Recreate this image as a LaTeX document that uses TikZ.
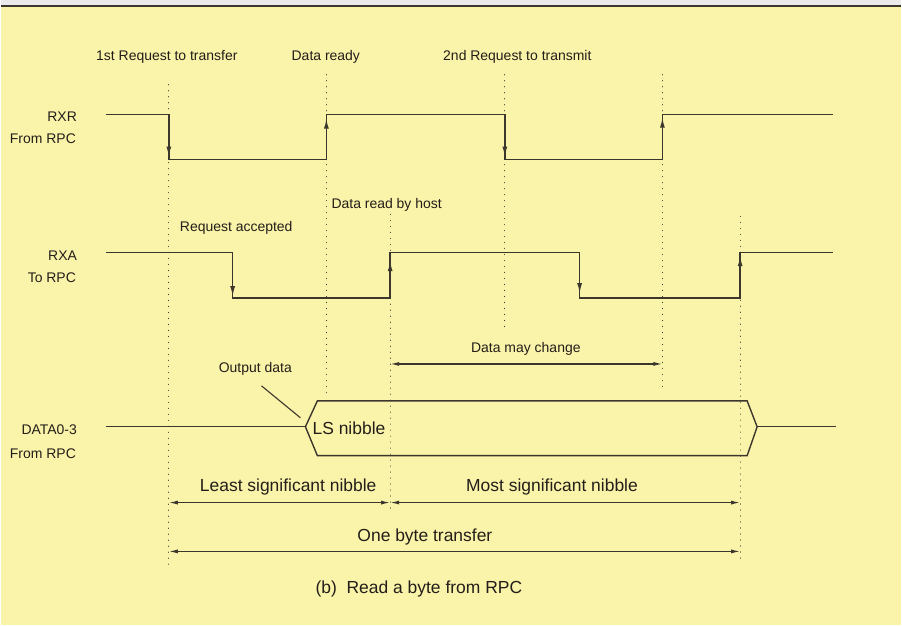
\documentclass[tikz,border=0pt]{standalone}
\usepackage{fontspec}
\setmainfont{Liberation Sans}
\usetikzlibrary{arrows.meta}
\definecolor{bg}{RGB}{250,243,170}
\definecolor{ink}{RGB}{60,55,45}
\definecolor{txt}{RGB}{35,30,25}
\tikzset{
 sig/.style={draw=ink, line width=1.4pt, line join=miter},
 guide/.style={draw=ink, line width=1.2pt, dash pattern=on 0.01pt off 6pt, line cap=round},
 edgearrow/.style={draw=ink, line width=1.4pt, -{Latex[length=10pt,width=5pt]}},
 dimline/.style={draw=ink, line width=1.2pt, {Latex[length=9pt,width=4pt]}-{Latex[length=9pt,width=4pt]}},
 small/.style={font=\fontsize{14}{16}\selectfont, text=txt, inner sep=0pt},
 big/.style={font=\fontsize{17.5}{20}\selectfont, text=txt, inner sep=0pt},
}
\begin{document}
\begin{tikzpicture}[x=1pt,y=-1pt]
% background
\fill[white!92!black] (0,0) rectangle (902,627);
\fill[bg] (0,6) rectangle (902,627);
\draw[line width=2.6pt, draw=ink] (0,6) -- (902,6);
\useasboundingbox (0,0) rectangle (902,627);

% guide lines
\draw[guide] (168,85) -- (168,567);
\draw[guide] (326,75) -- (326,395);
\draw[guide] (390,215) -- (390,512);
\draw[guide] (505,75) -- (505,332);
\draw[guide] (663,75) -- (663,392);
\draw[guide] (741,217) -- (741,565);

% top labels
\node[small, anchor=west] (l1) at (95,57) {1st Request to transfer};
\node[small, anchor=west] (l2) at (291,57) {Data ready};
\node[small, anchor=west] (l3) at (443,57) {2nd Request to transmit};
\node[small, anchor=west] (l4) at (331,205) {Data read by host};
\node[small, anchor=west] (l5) at (179,229) {Request accepted};

% signal names
\node[small, anchor=east] (rxr) at (76,117) {RXR};
\node[small, anchor=east] (rxr2) at (75,139) {From RPC};
\node[small, anchor=east] (rxa) at (76,256) {RXA};
\node[small, anchor=east] (rxa2) at (75,278) {To RPC};
\node[small, anchor=east] (dat) at (76,431) {DATA0-3};
\node[small, anchor=east] (dat2) at (75,455) {From RPC};

% RXR
\coordinate (r0) at (105,115);
\coordinate (r1) at (834,115);
\draw[sig] (r0) -- (168,115) -- (168,160) -- (326,160) -- (326,115) -- (505,115)
  -- (505,160) -- (663,160) -- (663,115) -- (r1);
\draw[edgearrow] (168,115) -- (168,157);
\draw[edgearrow] (326,160) -- (326,119);
\draw[edgearrow] (505,115) -- (505,157);
\draw[edgearrow] (663,160) -- (663,118);

% RXA
\coordinate (a0) at (105,253);
\coordinate (a1) at (834,253);
\draw[sig] (a0) -- (232,253) -- (232,299) -- (390,299) -- (390,253) -- (580,253)
  -- (580,299) -- (741,299) -- (741,253) -- (a1);
\draw[edgearrow] (232,253) -- (232,297);
\draw[edgearrow] (390,299) -- (390,262);
\draw[edgearrow] (580,253) -- (580,294);
\draw[edgearrow] (741,299) -- (741,257);

% Data may change
\node[small, anchor=west] (dmc) at (471,350) {Data may change};
\coordinate (dm0) at (390,365);
\coordinate (dm1) at (663,365);
\draw[dimline] (dm0) -- (dm1);

% Output data
\node[small, anchor=west] (od) at (218,370) {Output data};
\coordinate (odl) at (300,419);
\draw[draw=ink, line width=1.1pt] (261,387) -- (odl);

% DATA bus
\coordinate (d0) at (105,428);
\coordinate (dL) at (305,428);
\coordinate (dR) at (758,428);
\coordinate (d1) at (837,428);
\draw[sig] (d0) -- (dL);
\draw[sig] (dL) -- (317,402) -- (748,402) -- (dR) -- (748,457) -- (317,457) -- cycle;
\draw[sig] (dR) -- (d1);
\node[big, anchor=west] (lsn) at (312,429) {LS nibble};

% dimensions
\node[big, anchor=west] (lsb) at (199,488) {Least significant nibble};
\node[big, anchor=west] (msb) at (466,488) {Most significant nibble};
\draw[dimline] (168,504) -- (390,504);
\draw[dimline] (390,504) -- (741,504);
\node[big, anchor=west] (obt) at (357,539) {One byte transfer};
\draw[dimline] (168,553) -- (741,553);

% caption
\node[big, anchor=west] (cap) at (315,591) {(b)\ \ Read a byte from RPC};
\end{tikzpicture}
\end{document}
